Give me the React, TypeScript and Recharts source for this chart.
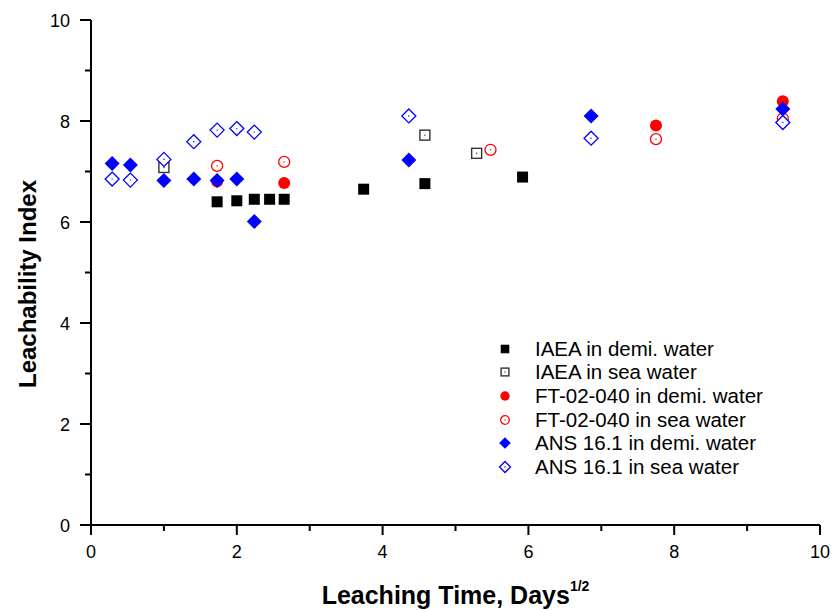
import { Label, Scatter, ScatterChart, XAxis, YAxis } from "recharts";

const FONT = '"Liberation Sans", Arial, Helvetica, sans-serif';
const RED = "#ff0000";
const BLUE = "#0000ff";
const BLACK = "#000000";

const TICKS = [0, 1, 2, 3, 4, 5, 6, 7, 8, 9, 10];

// x = sqrt(days)
const iaeaDemiX = [1.73, 2.0, 2.24, 2.45, 2.65, 3.74, 4.58, 5.92];
const iaeaDemiY = [6.4, 6.42, 6.45, 6.45, 6.45, 6.65, 6.76, 6.89];

const iaeaSeaX = [1.0, 4.58, 5.29];
const iaeaSeaY = [7.08, 7.72, 7.36];

const ftDemiX = [1.73, 2.65, 7.75, 9.49];
const ftDemiY = [6.8, 6.77, 7.91, 8.39];

const ftSeaX = [1.73, 2.65, 5.48, 7.75, 9.49];
const ftSeaY = [7.11, 7.19, 7.43, 7.64, 8.05];

const ansDemiX = [0.29, 0.54, 1.0, 1.41, 1.73, 2.0, 2.24, 4.36, 6.86, 9.49];
const ansDemiY = [7.16, 7.13, 6.82, 6.85, 6.82, 6.85, 6.01, 7.23, 8.1, 8.24];

const ansSeaX = [0.29, 0.54, 1.0, 1.41, 1.73, 2.0, 2.24, 4.36, 6.86, 9.49];
const ansSeaY = [6.85, 6.83, 7.24, 7.59, 7.82, 7.85, 7.78, 8.1, 7.66, 7.97];

const zip = (xs: number[], ys: number[]) => xs.map((x, i) => ({ x, y: ys[i] }));

const W = 834;
const H = 611;
const Y_AXIS_W = 91;
const X_AXIS_H = 86;
const MARGIN = { top: 20, right: 14, bottom: 0, left: 0 };
const AXIS_BOTTOM = H - X_AXIS_H - MARGIN.bottom;

// marker shapes (s = size factor, 1 for plot, smaller for legend)
const marker = (kind: string, cx: number, cy: number, s = 1) => {
  const dot = (c: string) => <circle cx={cx} cy={cy} r={0.7} fill={c} />;
  switch (kind) {
    case "sqFill":
      return <rect x={cx - 5.5 * s} y={cy - 5.5 * s} width={11 * s} height={11 * s} fill={BLACK} />;
    case "sqOpen":
      return (
        <g>
          <rect x={cx - 5 * s} y={cy - 5 * s} width={10 * s} height={10 * s} fill="#fff" stroke="#333" strokeWidth={1.4} />
          {dot("#333")}
        </g>
      );
    case "ciFill":
      return <circle cx={cx} cy={cy} r={6 * s} fill={RED} />;
    case "ciOpen":
      return (
        <g>
          <circle cx={cx} cy={cy} r={5.5 * s} fill="#fff" stroke={RED} strokeWidth={1.3} />
          {dot(RED)}
        </g>
      );
    case "diFill": {
      const h = 7.5 * s;
      return <polygon points={`${cx},${cy - h} ${cx + h},${cy} ${cx},${cy + h} ${cx - h},${cy}`} fill={BLUE} />;
    }
    default: {
      const h = 7 * s;
      return (
        <g>
          <polygon
            points={`${cx},${cy - h} ${cx + h},${cy} ${cx},${cy + h} ${cx - h},${cy}`}
            fill="#fff"
            stroke={BLUE}
            strokeWidth={1.3}
          />
          {dot(BLUE)}
        </g>
      );
    }
  }
};

const SERIES = [
  { name: "IAEA in demi. water", kind: "sqFill", data: zip(iaeaDemiX, iaeaDemiY) },
  { name: "IAEA in sea water", kind: "sqOpen", data: zip(iaeaSeaX, iaeaSeaY) },
  { name: "FT-02-040 in demi. water", kind: "ciFill", data: zip(ftDemiX, ftDemiY) },
  { name: "FT-02-040 in sea water", kind: "ciOpen", data: zip(ftSeaX, ftSeaY) },
  { name: "ANS 16.1 in demi. water", kind: "diFill", data: zip(ansDemiX, ansDemiY) },
  { name: "ANS 16.1 in sea water", kind: "diOpen", data: zip(ansSeaX, ansSeaY) },
];

const YTick = (props: any) => {
  const { y, payload } = props;
  const major = payload.value % 2 === 0;
  return (
    <g>
      <line x1={Y_AXIS_W - (major ? 11 : 6)} x2={Y_AXIS_W} y1={y} y2={y} stroke={BLACK} strokeWidth={2} />
      {major && (
        <text x={Y_AXIS_W - 21} y={y + 6.5} textAnchor="end" fontSize={18} fontFamily={FONT} fill={BLACK}>
          {payload.value}
        </text>
      )}
    </g>
  );
};

const XTick = (props: any) => {
  const { x, payload } = props;
  const major = payload.value % 2 === 0;
  return (
    <g>
      <line x1={x} x2={x} y1={AXIS_BOTTOM} y2={AXIS_BOTTOM + (major ? 10 : 6)} stroke={BLACK} strokeWidth={2} />
      {major && (
        <text x={x} y={AXIS_BOTTOM + 33} textAnchor="middle" fontSize={18} fontFamily={FONT} fill={BLACK}>
          {payload.value}
        </text>
      )}
    </g>
  );
};

const XTitle = (props: any) => {
  const { viewBox } = props;
  const cx = viewBox.x + viewBox.width / 2;
  return (
    <text x={cx} y={604} textAnchor="middle" fontFamily={FONT} fontWeight="bold" fontSize={25} fill={BLACK}>
      Leaching Time, Days
      <tspan dy={-13} fontSize={14}>
        1/2
      </tspan>
    </text>
  );
};

const YTitle = () => (
  <text
    x={36}
    y={284}
    transform="rotate(-90 36 284)"
    textAnchor="middle"
    fontFamily={FONT}
    fontWeight="bold"
    fontSize={24}
    fill={BLACK}
  >
    Leachability Index
  </text>
);

const LegendBox = () => (
  <div style={{ position: "absolute", left: 495, top: 337, fontFamily: FONT, fontSize: 20.5, color: BLACK }}>
    {SERIES.map((s) => (
      <div key={s.name} style={{ display: "flex", alignItems: "center", height: 23.6 }}>
        <svg width={20} height={20} style={{ marginRight: 20 }}>
          {marker(s.kind, 10, 10, 0.78)}
        </svg>
        <span style={{ whiteSpace: "nowrap" }}>{s.name}</span>
      </div>
    ))}
  </div>
);

export default function App() {
  return (
    <div style={{ position: "absolute", left: 0, top: 0, width: W, height: H, background: "#fff" }}>
      <ScatterChart width={W} height={H} margin={MARGIN}>
        <XAxis
          type="number"
          dataKey="x"
          domain={[0, 10]}
          ticks={TICKS}
          interval={0}
          height={X_AXIS_H}
          axisLine={{ stroke: BLACK, strokeWidth: 2 }}
          tickLine={false}
          tick={<XTick />}
        >
          <Label content={<XTitle />} />
        </XAxis>
        <YAxis
          type="number"
          dataKey="y"
          domain={[0, 10]}
          ticks={TICKS}
          interval={0}
          width={Y_AXIS_W}
          axisLine={{ stroke: BLACK, strokeWidth: 2 }}
          tickLine={false}
          tick={<YTick />}
        >
          <Label content={<YTitle />} />
        </YAxis>
        {SERIES.map((s) => (
          <Scatter
            key={s.name}
            name={s.name}
            data={s.data}
            isAnimationActive={false}
            shape={(p: any) => marker(s.kind, p.cx, p.cy)}
          />
        ))}
      </ScatterChart>
      <LegendBox />
    </div>
  );
}
